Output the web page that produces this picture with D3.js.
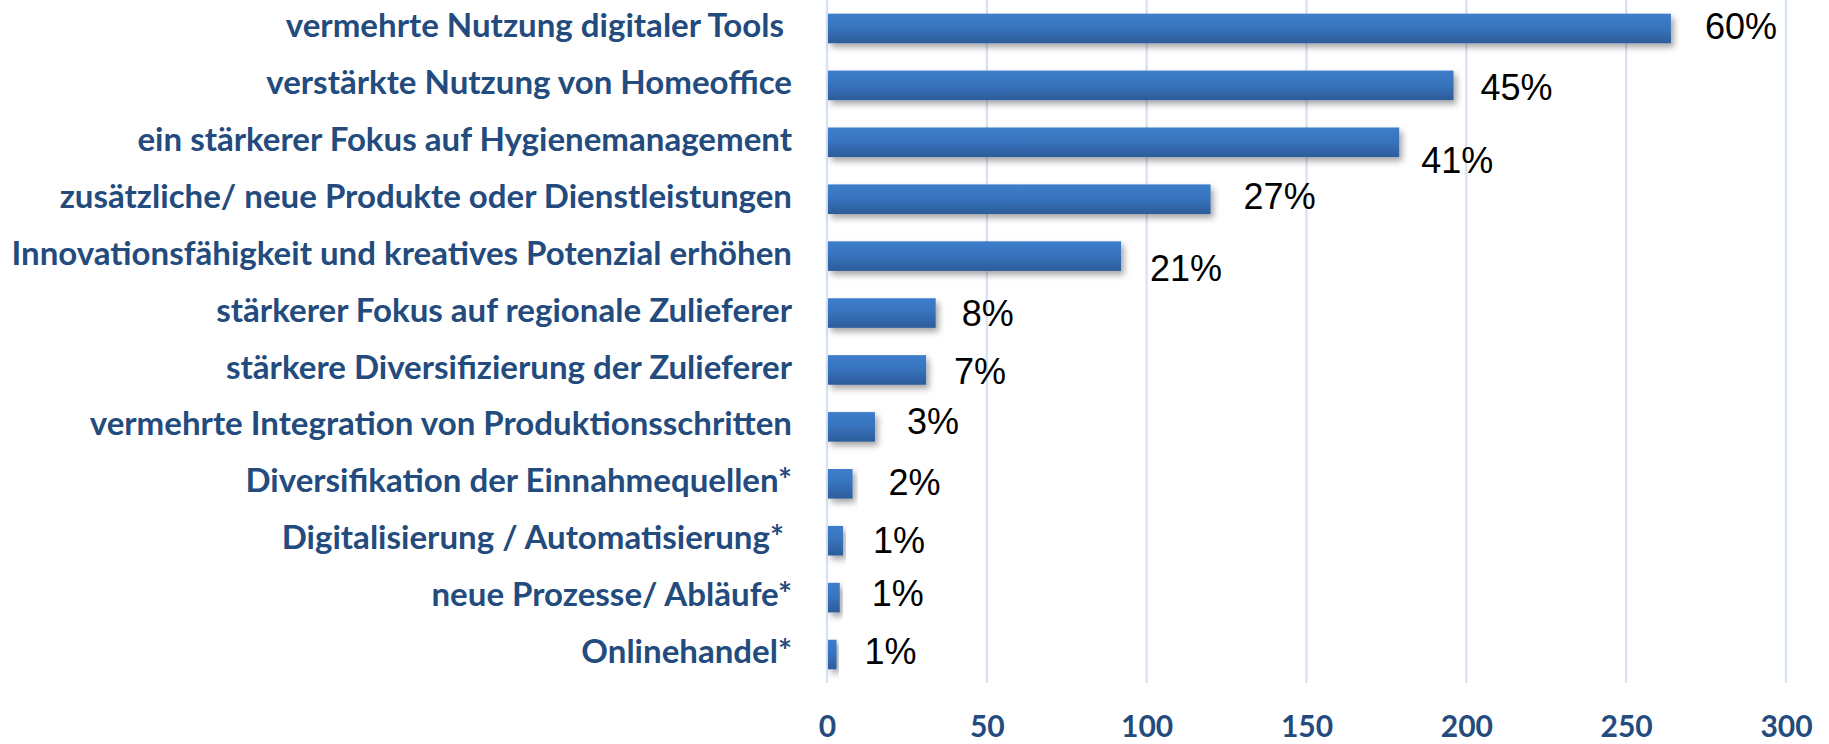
<!DOCTYPE html>
<html>
<head>
<meta charset="utf-8">
<script src="https://cdn.jsdelivr.net/npm/d3@7"></script>
<style>
  html, body { margin: 0; padding: 0; background: #ffffff; }
  svg { display: block; }
  text { white-space: pre; }
</style>
</head>
<body>
<svg id="chart" width="1829" height="744"></svg>
<script>
// ---- data ----
const categories = [
  "vermehrte Nutzung digitaler Tools ",
  "verstärkte Nutzung von Homeoffice",
  "ein stärkerer Fokus auf Hygienemanagement",
  "zusätzliche/ neue Produkte oder Dienstleistungen",
  "Innovationsfähigkeit und kreatives Potenzial erhöhen",
  "stärkerer Fokus auf regionale Zulieferer",
  "stärkere Diversifizierung der Zulieferer",
  "vermehrte Integration von Produktionsschritten",
  "Diversifikation der Einnahmequellen*",
  "Digitalisierung / Automatisierung* ",
  "neue Prozesse/ Abläufe*",
  "Onlinehandel*"
];
const counts = [264, 196, 179, 120, 92, 34, 31, 15, 8, 5, 4, 3];
const percentLabels = ["60%", "45%", "41%", "27%", "21%", "8%", "7%", "3%", "2%", "1%", "1%", "1%"];
const xTicks = [0, 50, 100, 150, 200, 250, 300];
// small manual nudges of the value labels (as placed in the original)
const labelNudgeX = [34, 27, 22, 33, 29, 26, 28, 32, 36, 30, 32, 28];
const labelNudgeY = [-2, 2, 18, -3, 12, 0, 1, -6, -2, -1, -5, -4];

// ---- layout ----
const svg = d3.select("#chart");
const plotLeft = 827, plotRight = 1786, plotTop = 0, plotBottom = 683;
const labelRight = 792;

const x = d3.scaleLinear().domain([0, 300]).range([plotLeft, plotRight]);
const y = d3.scaleBand().domain(categories).range([plotTop, plotBottom])
  .paddingInner(0.48).paddingOuter(0.24);

const defs = svg.append("defs");
const grad = defs.append("linearGradient").attr("id", "barGrad")
  .attr("x1", 0).attr("y1", 0).attr("x2", 0).attr("y2", 1);
grad.append("stop").attr("offset", "0%").attr("stop-color", "#3D7DCB");
grad.append("stop").attr("offset", "45%").attr("stop-color", "#3874BE");
grad.append("stop").attr("offset", "100%").attr("stop-color", "#2C5C9A");
const filt = defs.append("filter").attr("id", "shadow")
  .attr("x", "-10%").attr("y", "-30%").attr("width", "130%").attr("height", "180%");
filt.append("feDropShadow").attr("dx", 3).attr("dy", 4).attr("stdDeviation", 3)
  .attr("flood-color", "#000").attr("flood-opacity", 0.35);

// gridlines
svg.append("g").selectAll("line").data(xTicks).join("line")
  .attr("x1", d => x(d)).attr("x2", d => x(d))
  .attr("y1", plotTop).attr("y2", plotBottom)
  .attr("stroke", "#D6E2F3").attr("stroke-width", 2.2);

// x axis tick labels
const xAxis = d3.axisBottom(x).tickValues(xTicks).tickSize(0).tickPadding(0);
const gx = svg.append("g").attr("transform", `translate(0,${plotBottom})`).call(xAxis);
gx.select(".domain").remove();
gx.selectAll("text")
  .attr("y", 54)
  .attr("dy", 0)
  .attr("font-family", "Lato, 'Open Sans', sans-serif")
  .attr("font-weight", "bold")
  .attr("font-size", 30)
  .attr("fill", "#234B7D");

// bars
svg.append("g").selectAll("rect").data(counts).join("rect")
  .attr("x", x(0) + 1)
  .attr("y", (d, i) => y(categories[i]))
  .attr("width", d => x(d) - x(0) - 1)
  .attr("height", y.bandwidth())
  .attr("fill", "url(#barGrad)")
  .attr("filter", "url(#shadow)");

// category labels
const catG = svg.append("g");
const catText = catG.selectAll("text").data(categories).join("text")
  .attr("x", labelRight)
  .attr("y", d => y(d) + y.bandwidth() / 2)
  .attr("dy", "0.26em")
  .attr("text-anchor", "end")
  .attr("font-family", "Lato, 'Open Sans', sans-serif")
  .attr("font-weight", "bold")
  .attr("font-size", 30)
  .attr("fill", "#234B7D")
  .text(d => d);
// fit the longest label to the width it takes in the original
let maxW = 0;
catText.each(function() { maxW = Math.max(maxW, this.getComputedTextLength()); });
const fitted = 30 * 781 / maxW;
catText.attr("font-size", fitted);

// value labels
svg.append("g").selectAll("text").data(counts).join("text")
  .attr("x", (d, i) => x(d) + labelNudgeX[i])
  .attr("y", (d, i) => y(categories[i]) + y.bandwidth() / 2 + labelNudgeY[i])
  .attr("dy", "0.36em")
  .attr("font-family", "'Liberation Sans', Arial, sans-serif")
  .attr("font-size", 36)
  .attr("fill", "#000")
  .text((d, i) => percentLabels[i]);
</script>
</body>
</html>
